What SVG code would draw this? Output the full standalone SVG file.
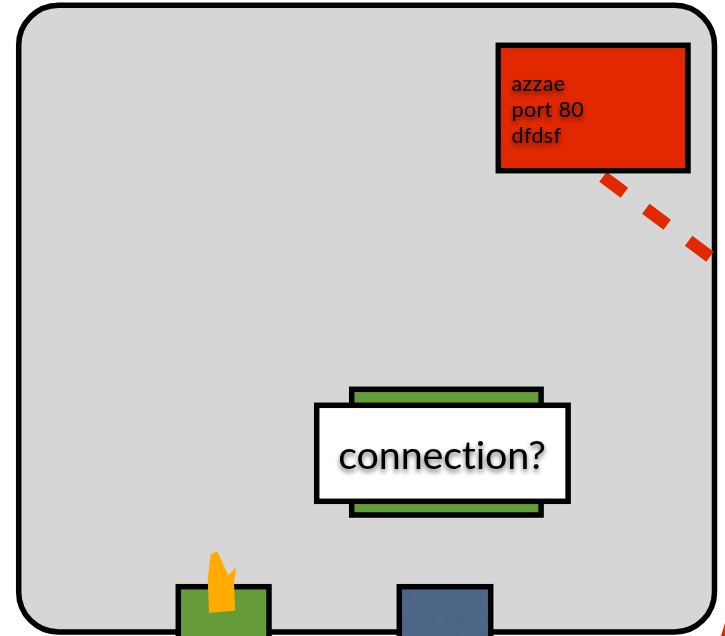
<svg xmlns="http://www.w3.org/2000/svg" width="725" height="636" viewBox="0 0 725 636">
<style>
.box{stroke:#000;stroke-width:5.5}
.green{fill:#659b38}
.t{font-family:"Lato","Open Sans",sans-serif;fill:#000;filter:url(#ts)}
</style>
<defs>
<filter id="ts" x="-20%" y="-30%" width="140%" height="170%"><feGaussianBlur in="SourceAlpha" stdDeviation="2.5"/><feOffset dy="3"/><feComponentTransfer><feFuncA type="linear" slope="0.6"/></feComponentTransfer><feMerge><feMergeNode/><feMergeNode in="SourceGraphic"/></feMerge></filter>
<filter id="tex" x="0" y="0" width="100%" height="100%" color-interpolation-filters="sRGB"><feTurbulence type="fractalNoise" baseFrequency="0.09" numOctaves="3" seed="4"/><feColorMatrix type="matrix" values="0 0 0 0 0.27  0 0 0 0 0.37  0 0 0 0 0.5  0.5 0 0 0 0"/><feComposite in2="SourceAlpha" operator="in"/><feMerge><feMergeNode in="SourceGraphic"/><feMergeNode/></feMerge></filter>
</defs>
<rect width="725" height="636" fill="#fff"/>
<g id="container"><rect class="box" x="18.7" y="5.3" width="695.8" height="626.7" rx="40" ry="40" fill="#d6d6d6"/></g>
<g id="connectors"><line x1="603" y1="176.7" x2="710" y2="256.7" stroke="#e22800" stroke-width="12.5" stroke-dasharray="26.7 26.75"/><polygon points="725,623 721,636 725,636" fill="#e22800"/></g>
<g id="red-node"><rect class="box" x="498.3" y="45.3" width="189.7" height="125.4" fill="#e22800"/>
<text class="t" font-size="21.5" letter-spacing="0.35"><tspan x="511.5" y="90.5">azzae</tspan><tspan x="511.5" y="116.5">port 80</tspan><tspan x="511.5" y="143">dfdsf</tspan></text></g>
<g id="connection-node"><rect class="box green" x="351.7" y="389.3" width="189.4" height="125.7"/><rect class="box" x="316.7" y="405.3" width="251.4" height="96" fill="#fff"/>
<text class="t" x="442" y="469" font-size="39.5" text-anchor="middle" letter-spacing="-0.2">connection?</text></g>
<g id="green-node"><rect class="box green" x="178.3" y="586.7" width="90.7" height="60"/><polygon points="210.7,554.3 217.3,551.3 228.3,575.3 236.3,567.3 234,582.7 235.3,610.7 209,612.7 207.7,579.3" fill="#ffab00"/></g>
<g id="blue-node"><rect x="399.3" y="586.7" width="91.4" height="60" fill="#51698a" filter="url(#tex)"/><rect class="box" x="399.3" y="586.7" width="91.4" height="60" fill="none"/></g>
</svg>
